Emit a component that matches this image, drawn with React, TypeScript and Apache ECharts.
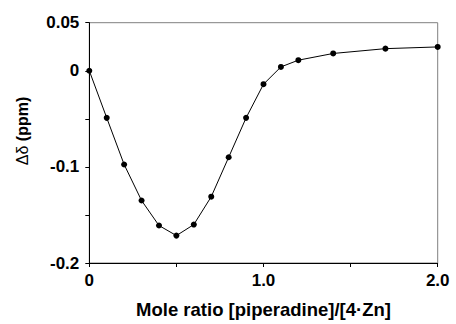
import React, { useEffect, useRef } from "react";
import * as echarts from "echarts";

const moleRatio = [0, 0.1, 0.2, 0.3, 0.4, 0.5, 0.6, 0.7, 0.8, 0.9, 1.0, 1.1, 1.2, 1.4, 1.7, 2.0];
const deltaShift = [0, -0.049, -0.0975, -0.135, -0.161, -0.1715, -0.16, -0.131, -0.09, -0.049, -0.014, 0.004, 0.011, 0.018, 0.023, 0.0248];
const yTickLabels: Record<string, string> = { "5": "0.05", "0": "0", "-10": "-0.1", "-20": "-0.2" };
const xTickLabels: Record<string, string> = { "0": "0", "10": "1.0", "20": "2.0" };
const xTitle = "Mole ratio [piperadine]/[4\u00b7Zn]";
const yTitleSymbol = "\u0394\u03b4";
const yTitleUnit = " (ppm)";

const FONT = "'Liberation Sans', Arial, Helvetica, sans-serif";

export default function App() {
  const ref = useRef<HTMLDivElement>(null);
  useEffect(() => {
    if (!ref.current) return;
    const chart = echarts.init(ref.current, null, { renderer: "svg" });
    chart.setOption({
      animation: false,
      backgroundColor: "#ffffff",
      grid: {
        left: 89.3,
        right: 18.3,
        top: 22.7,
        bottom: 57.3,
        show: true,
        borderColor: "#808080",
        borderWidth: 1,
      },
      graphic: [
        {
          type: "text",
          x: 22.5,
          y: 131,
          rotation: Math.PI / 2,
          style: {
            text: `{s|${yTitleSymbol}}{u|${yTitleUnit}}`,
            align: "center",
            verticalAlign: "middle",
            fill: "#000",
            fontFamily: FONT,
            fontSize: 16,
            rich: {
              s: { fontFamily: FONT, fontSize: 16, fontWeight: "normal", fill: "#000" },
              u: { fontFamily: FONT, fontSize: 16, fontWeight: "bold", fill: "#000" },
            },
          },
        },
      ],
      xAxis: {
        type: "value",
        min: 0,
        max: 2,
        interval: 0.5,
        name: xTitle,
        nameLocation: "middle",
        nameGap: 37,
        nameTextStyle: { fontFamily: FONT, fontWeight: "bold", fontSize: 18.5, color: "#000" },
        axisLine: { show: true, onZero: false, lineStyle: { color: "#000", width: 1 } },
        axisTick: { show: true, length: 4, lineStyle: { color: "#000" } },
        splitLine: { show: false },
        axisLabel: {
          fontFamily: FONT,
          fontWeight: "bold",
          fontSize: 17,
          color: "#000",
          margin: 9,
          formatter: (v: number) => xTickLabels[String(Math.round(v * 10))] ?? "",
        },
      },
      yAxis: {
        type: "value",
        min: -0.2,
        max: 0.05,
        interval: 0.05,
        axisLine: { show: true, onZero: false, lineStyle: { color: "#000", width: 1 } },
        axisTick: { show: true, length: 4, lineStyle: { color: "#000" } },
        splitLine: { show: false },
        axisLabel: {
          fontFamily: FONT,
          fontWeight: "bold",
          fontSize: 17,
          color: "#000",
          margin: 10,
          formatter: (v: number) => yTickLabels[String(Math.round(v * 100))] ?? "",
        },
      },
      series: [
        {
          type: "line",
          data: moleRatio.map((x, i) => [x, deltaShift[i]]),
          symbol: "circle",
          symbolSize: 6,
          lineStyle: { color: "#000", width: 1 },
          itemStyle: { color: "#000" },
          clip: false,
        },
      ],
    });
    return () => chart.dispose();
  }, []);
  return <div ref={ref} style={{ width: 456, height: 324, position: "absolute", left: 0, top: 0 }} />;
}
